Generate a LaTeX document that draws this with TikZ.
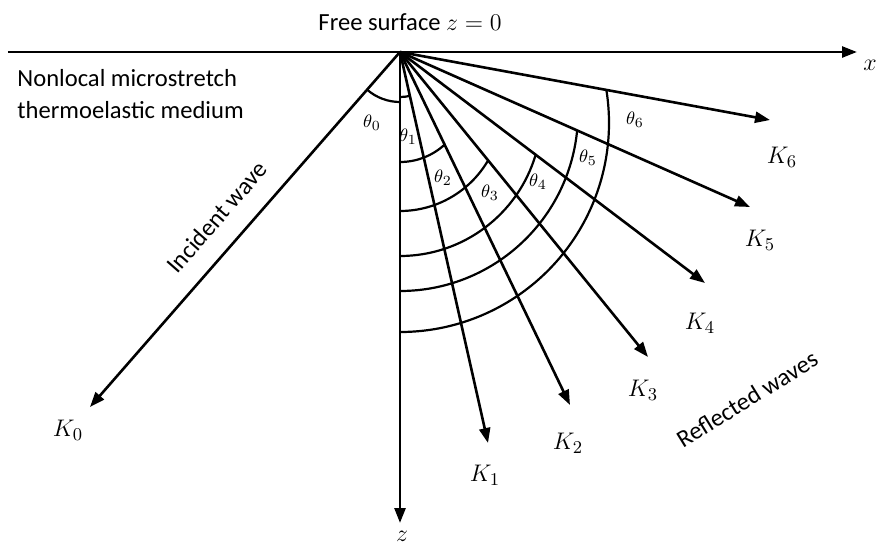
\documentclass[tikz,border=0pt]{standalone}
\usepackage{fontspec}
\setmainfont{Carlito}
\usetikzlibrary{arrows.meta}

\tikzset{
  wave/.style={line width=1.3pt, -{Triangle[length=7.5pt,width=5.5pt]}},
  angarc/.style={line width=1.1pt},
  klabel/.style={font=\fontsize{12.5}{14}\selectfont},
  anglabel/.style={font=\fontsize{9.5}{11}\selectfont, inner sep=0pt},
  txt/.style={font=\fontsize{12.3}{16}\selectfont, inner sep=0pt}
}

\begin{document}
\begin{tikzpicture}[x=0.5pt, y=0.5pt]
  \useasboundingbox (-400,52) rectangle (476,-494);
  \coordinate (O) at (0,0);
  % axes
  \coordinate (xl) at (-392,0);
  \coordinate (xr) at (457,0);
  \coordinate (zb) at (0,-471);
  \draw[wave] (xl) -- (xr);
  \draw[wave] (O) -- (zb);
  \node[klabel] (xlab) at (470,-13) {$x$};
  \node[klabel] (zlab) at (2,-484) {$z$};
  \node[txt] (surf) at (10,30) {Free surface $z=0$};
  \node[txt, anchor=west, align=left] (medium) at (-383,-42)
       {Nonlocal microstretch\\thermoelastic medium};
  % incident wave
  \coordinate (k0) at (-310,-355);
  \draw[wave] (O) -- (k0);
  \node[klabel] (K0) at (-332,-378) {$K_0$};
  \node[txt, rotate=48.8] (inc) at (-183,-165) {Incident wave};
  % reflected waves
  \foreach \i/\tx/\ty/\lx/\ly in {1/88/-391/85/-423, 2/170/-353/168/-391,
      3/248/-305/243/-338, 4/305/-231/300/-271, 5/350/-155/360/-188,
      6/370/-68/382/-105} {
    \coordinate (k\i) at (\tx,\ty);
    \draw[wave] (O) -- (k\i);
    \node[klabel] (K\i) at (\lx,\ly) {$K_{\i}$};
  }
  \node[txt, rotate=31.7] (refl) at (347,-347) {Reflected waves};
  % angle arcs
  \draw[angarc] (O) ++(-131.1:50) arc[start angle=-131.1, end angle=-90, radius=50];
  \draw[angarc] (O) ++(-90:45) arc[start angle=-90, end angle=-77.3, radius=45];
  \foreach \b/\e/\r in {110/-47.5/66, 159/-30.2/102, 204/-16.5/141.5,
      239/-5.8/178, 280/9/209}
    \draw[angarc] (0,-\b) arc[start angle=-90, end angle=\e, radius=\r];
  % angle labels
  \foreach \i/\px/\py in {0/-28/-71, 1/8/-85, 2/43/-126, 3/90/-141,
      4/138/-130, 5/188/-106, 6/235/-68}
    \node[anglabel] (t\i) at (\px,\py) {$\theta_{\i}$};
\end{tikzpicture}
\end{document}
